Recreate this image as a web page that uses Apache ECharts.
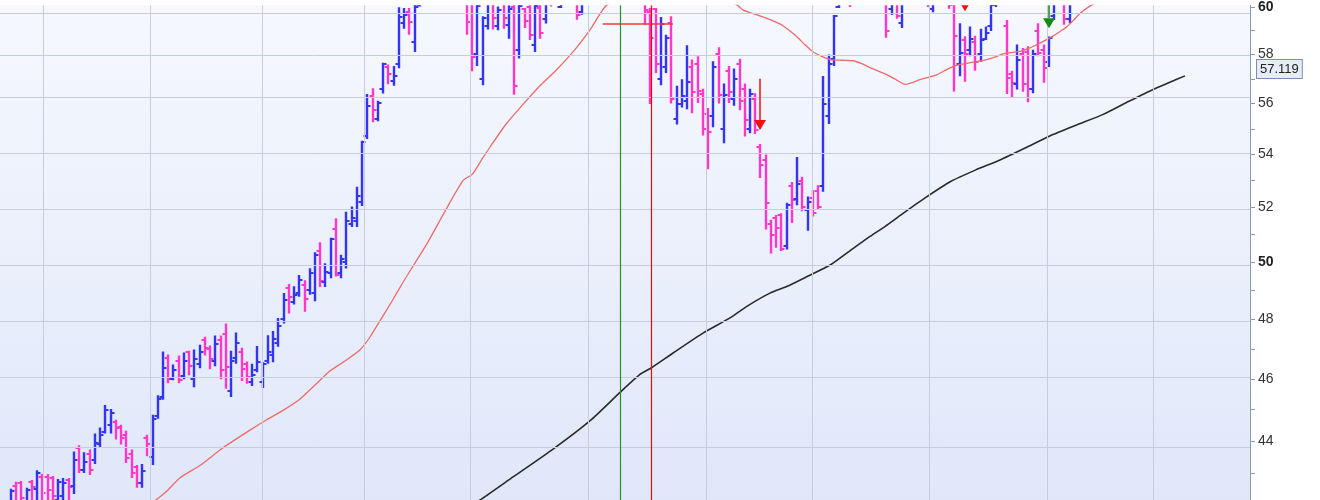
<!DOCTYPE html>
<html><head><meta charset="utf-8">
<script src="https://cdn.jsdelivr.net/npm/echarts@6/dist/echarts.min.js"></script>
<style>html,body{margin:0;padding:0;background:#fff}#c{width:1320px;height:500px}</style>
</head><body><div id="c"></div>
<script>
// OHLC bars: [open, high, low, close], one per trading day
const bars = [
[42.0,42.53,41.9,42.45],[42.6,42.74,41.9,42.1],[42.7,42.77,41.9,42.24],[42.1,42.56,41.95,42.5],[42.75,42.8,41.9,42.57],
[42.52,43.1,42.0,43.0],[42.9,42.98,42.0,42.4],[42.9,42.98,42.05,42.5],[42.85,42.92,42.0,42.3],[42.2,42.83,42.0,42.75],
[42.3,42.86,42.05,42.7],[42.8,42.86,42.1,42.57],[42.6,43.68,42.37,43.41],[43.8,43.87,43.01,43.09],[43.1,43.65,43.01,43.35],
[43.6,43.74,42.95,43.1],[43.4,44.24,43.29,43.94],[43.9,44.43,43.8,44.2],[44.3,45.15,44.24,44.98],[44.5,45.02,44.24,44.9],
[44.6,44.68,44.05,44.41],[44.45,44.52,43.9,44.1],[44.2,44.33,43.32,43.46],[43.6,43.74,42.86,43.0],[43.2,43.26,42.56,42.72],
[42.7,43.29,42.56,43.07],[44.1,44.2,43.53,43.92],[43.5,44.84,43.26,44.71],[44.8,45.47,44.71,45.36],[45.4,46.91,45.32,46.35],
[46.7,46.81,45.86,46.0],[46.0,46.48,45.96,46.3],[46.6,46.78,45.86,45.95],[46.1,46.88,45.99,46.6],[46.9,46.94,46.12,46.44],
[46.0,46.98,45.73,46.66],[46.5,47.14,46.35,46.88],[47.3,47.41,46.78,47.04],[47.0,47.11,46.32,46.66],[46.6,47.45,46.42,47.16],
[47.3,47.45,45.99,46.3],[47.5,47.86,45.68,46.38],[45.6,46.94,45.41,46.58],[46.7,47.55,46.5,47.21],[46.9,47.04,45.93,46.33],
[46.5,46.58,45.84,46.06],[45.9,46.5,45.77,46.12],[46.3,47.1,46.22,46.55],[45.9,46.55,45.7,46.5],[46.6,47.46,46.5,46.88],
[46.8,47.6,46.55,47.32],[47.2,48.05,47.07,47.77],[48.0,48.91,47.86,48.68],[49.1,49.23,48.2,48.78],[48.6,49.15,48.51,48.85],
[48.9,49.55,48.78,49.38],[49.2,49.36,48.26,48.69],[49.02,49.79,48.85,49.6],[48.9,50.36,48.63,50.27],[50.4,50.72,49.12,49.32],
[49.3,49.96,49.12,49.67],[49.6,50.88,49.43,50.82],[51.2,51.6,49.49,49.55],[49.6,50.27,49.43,50.1],[50.0,51.84,49.78,51.48],
[51.4,52.03,51.27,51.6],[51.5,52.77,51.27,52.42],[52.2,54.53,52.05,54.47],[54.7,56.38,54.6,55.92],[56.3,56.62,55.26,55.73],
[55.4,56.11,55.3,56.04],[56.6,57.66,56.4,57.62],[57.5,57.59,56.78,57.18],[56.9,57.52,56.72,57.12],[57.6,59.99,57.43,59.58],
[59.3,59.96,59.07,59.66],[59.8,59.96,58.82,59.35],[58.5,60.3,58.1,60.02],[60.1,60.6,60.02,60.4],[60.4,61.2,60.2,61.0],
[61.0,61.5,60.5,60.8],[60.8,61.6,60.6,61.4],[61.4,61.9,60.9,61.1],[61.1,61.8,60.7,61.6],[61.6,62.0,61.0,61.2],
[61.2,61.7,60.6,60.9],[60.9,61.3,60.3,61.1],[60.5,61.0,58.82,59.35],[60.4,60.8,57.31,57.88],[58.0,60.6,57.52,60.03],
[57.0,59.6,56.74,59.53],[59.2,60.5,59.04,60.2],[60.3,60.6,59.04,59.53],[59.2,60.02,59.01,59.88],[60.2,60.4,59.07,59.53],
[59.24,60.08,58.65,59.9],[60.0,60.3,56.35,56.7],[58.2,60.1,57.83,60.03],[59.9,59.96,59.11,59.4],[60.0,60.1,58.6,58.82],
[58.4,60.1,58.1,60.03],[59.96,60.2,58.65,58.9],[59.5,60.5,59.3,60.3],[60.6,60.9,60.02,60.2],[60.3,61.0,60.2,60.8],
[60.0,60.6,59.96,60.4],[60.5,61.2,60.3,61.0],[61.0,61.3,60.4,60.6],[60.5,60.8,59.46,59.66],[59.8,60.5,59.67,60.2],
[60.3,61.0,60.2,60.8],[60.8,61.4,60.5,61.2],[61.2,61.6,60.7,60.9],[60.9,61.8,60.8,61.6],[61.6,62.1,61.2,61.5],
[61.5,62.2,61.1,62.0],[62.0,62.4,61.3,61.6],[61.6,62.0,61.0,61.3],[61.3,61.8,60.6,60.9],[60.9,61.4,60.4,61.2],
[61.2,61.5,60.5,60.7],[60.4,60.7,59.24,59.88],[59.8,59.96,55.98,58.67],[59.9,59.96,57.24,57.6],[57.0,59.57,56.74,59.29],
[57.5,58.82,57.24,58.67],[59.3,59.61,56.0,56.17],[55.4,56.72,55.17,56.0],[56.0,56.98,55.84,56.32],[56.1,58.38,55.77,56.87],
[57.5,57.79,55.61,56.45],[57.6,57.93,56.02,56.49],[56.4,56.6,54.74,55.0],[55.6,55.82,53.43,54.87],[55.5,57.72,55.06,57.48],
[58.0,58.3,56.0,56.35],[55.0,56.81,54.44,56.35],[57.3,57.52,56.02,56.45],[56.2,57.42,55.91,56.98],[57.6,57.82,55.73,56.11],
[56.6,56.81,54.7,55.34],[55.0,56.6,54.83,56.38],[56.2,56.41,54.8,54.96],[54.3,54.41,53.1,53.58],[53.8,54.0,51.18,52.17],
[51.4,51.54,50.31,51.0],[51.6,51.72,50.52,51.24],[51.7,51.78,50.4,50.46],[50.6,52.17,50.46,52.08],[52.8,52.95,51.42,52.27],
[52.3,53.9,52.08,52.89],[53.0,53.15,51.85,52.0],[51.9,52.4,51.14,52.2],[52.33,52.64,51.66,51.8],[52.6,52.83,51.9,52.0],
[52.8,57.11,52.58,56.0],[55.5,58.0,55.19,57.59],[57.8,59.66,57.52,59.6],[60.0,60.7,59.96,60.5],[60.5,61.0,60.3,60.7],
[60.6,60.8,60.0,60.2],[60.2,60.9,60.15,60.7],[60.7,61.3,60.4,61.1],[61.1,61.4,60.5,60.8],[60.8,61.5,60.6,61.3],
[61.3,61.6,60.7,61.0],[61.0,61.2,60.4,60.6],[60.5,60.8,58.7,59.0],[59.9,60.6,59.66,60.3],[60.3,60.6,59.5,59.6],
[59.3,60.5,59.11,60.3],[60.3,61.0,60.2,60.8],[60.8,61.2,60.4,60.6],[60.6,61.3,60.5,61.1],[61.1,61.4,60.6,60.9],
[60.5,60.8,60.0,60.2],[59.9,60.5,59.78,60.3],[60.3,61.0,60.2,60.8],[60.8,61.1,60.3,60.5],[60.5,60.8,59.92,60.1],
[60.2,60.6,56.49,58.78],[57.6,59.31,57.1,58.07],[58.6,58.76,56.88,58.0],[58.2,59.17,57.93,58.65],[58.5,58.78,57.33,57.7],
[58.0,59.07,57.7,58.62],[58.66,59.17,58.6,58.9],[59.2,60.4,58.98,60.1],[60.1,60.7,60.0,60.5],[60.5,60.9,60.3,60.6],
[59.2,59.45,56.38,57.04],[57.2,57.33,56.23,56.84],[56.8,58.41,56.57,57.79],[58.0,58.27,56.48,56.78],[58.1,58.34,56.05,56.57],
[56.6,58.2,56.41,58.0],[59.0,59.31,57.93,58.07],[58.2,58.41,56.84,57.45],[57.7,58.75,57.48,58.7],[59.6,60.5,59.45,60.3],
[60.3,60.8,60.2,60.6],[60.5,60.7,59.24,59.5],[59.5,60.6,59.31,60.3],[60.3,61.0,60.2,60.8],[60.8,61.3,60.5,61.1],
[61.1,61.5,60.7,60.9],[60.9,61.6,60.8,61.4],[61.4,61.9,61.1,61.7],[61.7,62.0,61.2,61.4],[61.4,62.1,61.3,61.9],
[61.9,62.4,61.6,62.2],[62.2,62.5,61.7,61.9],[61.9,62.6,61.8,62.4],[62.4,62.8,62.0,62.2],[62.2,62.9,62.1,62.7],
[62.7,63.1,62.3,62.5],[62.5,63.2,62.4,63.0],[63.0,63.4,62.6,62.8],[62.8,63.3,62.5,63.1],[63.1,63.6,62.9,63.4],
[63.4,63.7,62.9,63.1],[63.1,63.8,63.0,63.6],[63.6,64.0,63.2,63.4],[63.4,64.1,63.3,63.9],[63.9,64.3,63.5,63.7]
];
// moving averages: [bar index, value]
const redMA = [[20,41.5],[26.8,42.1],[29.8,42.47],[32.2,42.86],[36.1,43.25],[40.5,43.8],[45.6,44.35],[48.8,44.68],[51.9,44.98],
[55.1,45.34],[58,45.8],[60.9,46.27],[63.8,46.6],[66.6,46.97],[68.5,47.4],[70.4,47.95],[72.6,48.6],[74.8,49.29],[77.1,49.98],
[79.4,50.68],[82.8,51.85],[86.2,52.99],[88.1,53.26],[89.8,53.8],[91.4,54.29],[94.5,55.2],[97.7,55.97],[100.6,56.65],
[104,57.35],[107.6,58.2],[110.7,59.1],[113.7,60.09],[120,60.6],[128,60.8],[134,60.5],[138.5,60.09],[139.7,59.87],
[143.2,59.6],[146.7,59.28],[148.4,59.02],[150,58.73],[151.5,58.4],[153,58.11],[154.7,57.92],[156.3,57.79],[158.5,57.76],
[160.7,57.74],[162.3,57.62],[163.9,57.46],[165.5,57.31],[167.1,57.17],[168.9,56.96],[170.6,56.77],[172,56.85],[173.4,56.97],
[175,57.06],[176.7,57.17],[178.2,57.34],[179.7,57.5],[181.4,57.6],[183,57.66],[184.6,57.72],[186.2,57.79],[187.8,57.9],
[189.3,58.02],[190.9,58.08],[192.5,58.13],[193.8,58.22],[195,58.33],[196.6,58.5],[198.2,58.69],[199.9,58.92],[201.5,59.17],
[202.8,59.45],[204,59.73],[206.3,60.09],[215,60.9],[224,61.5]];
const blackMA = [[85,41.75],[89.5,42.19],[95.8,42.89],[103.5,43.76],[110.5,44.65],[116.2,45.56],[120,46.15],[122.2,46.37],
[126.4,46.87],[132.1,47.54],[137.2,48.05],[140.4,48.45],[144.8,48.91],[148,49.14],[152,49.5],[156.3,49.9],[160,50.4],
[163.9,50.93],[166.8,51.3],[169.6,51.69],[174.4,52.35],[179.2,52.96],[184,53.4],[188.7,53.79],[193.5,54.25],[198.2,54.72],
[203.3,55.15],[208.4,55.57],[213.2,56.08],[217.9,56.57],[221,56.85],[224,57.119]];
// month boundaries (bar index)
const monthBreaks = [6.1,26.5,47.9,67.4,87.6,110.1,132.6,152.8,175.2,197.7,217.9];
const yLabelValues = [44,46,48,50,52,54,56,58,60];
const yTickValues = [43,44,45,46,47,48,49,50,51,52,53,54,55,56,57,58,59,60];
const yRange = [42.19, 60.072];   // visible price range (logarithmic scale)
// trade signals: [bar index, arrow tip value, arrow tail value, kind]
const signals = [[143,54.95,57.0,'sell'],[182,59.82,61.5,'sell'],[198,59.1,60.6,'buy']];
// entry / exit event markers: [bar index, kind]
const events = [[116.2,'entry'],[122.2,'exit']];
const stopLine = [112.9, 126.3, 59.28];

const BLUE = '#3434f4', PINK = '#ff38c8';
const L = Math.log;   // price axis is logarithmic: plot ln(price)
const chart = echarts.init(document.getElementById('c'), null, {renderer: 'canvas'});
const lastMA = blackMA[blackMA.length - 1][1];
const FONT = 'Liberation Sans, Arial, sans-serif';

const option = {
  animation: false,
  backgroundColor: '#ffffff',
  grid: {
    left: 0, right: 70, top: 0, bottom: 0, show: true, borderWidth: 0,
    backgroundColor: new echarts.graphic.LinearGradient(0, 0, 0, 1, [
      {offset: 0, color: '#f6f8fe'}, {offset: 1, color: '#dfe7f9'}])
  },
  xAxis: { type: 'value', min: -2.099, max: 236.4, show: false },
  yAxis: {
    type: 'value', position: 'right', min: L(yRange[0]), max: L(yRange[1]), scale: true,
    axisLine: {show: true, onZero: false, lineStyle: {color: '#8a9ab2', width: 1}},
    axisTick: {show: true, length: 5, customValues: yTickValues.map(L), lineStyle: {color: '#8a9ab2'}},
    axisLabel: {
      customValues: yLabelValues.map(L), margin: 8, fontSize: 14, color: '#333', fontFamily: FONT,
      formatter: v => { const r = Math.round(Math.exp(v)); return r % 10 === 0 ? '{b|' + r + '}' : String(r); },
      rich: {b: {fontWeight: 'bold', fontSize: 14, color: '#222', fontFamily: FONT}}
    },
    splitLine: {show: false}
  },
  series: [
    { type: 'line', data: [], z: 1, silent: true,
      markLine: { silent: true, symbol: 'none', label: {show: false},
        lineStyle: {color: '#c6cedd', width: 1, type: 'solid'},
        data: yLabelValues.map(v => ({yAxis: L(v)})).concat(monthBreaks.map(m => ({xAxis: m}))) } },
    { type: 'custom', z: 3, clip: true,
      data: bars.map((b, i) => [i, L(b[0]), L(b[1]), L(b[2]), L(b[3])]),
      encode: {x: 0, y: [1, 2, 3, 4]},
      renderItem: (params, api) => {
        const i = api.value(0);
        const o = api.coord([i, api.value(1)]), h = api.coord([i, api.value(2)]);
        const l = api.coord([i, api.value(3)]), c = api.coord([i, api.value(4)]);
        const color = api.value(4) >= api.value(1) ? BLUE : PINK;
        const x = Math.round(h[0]);
        const st = {stroke: color, lineWidth: 2.4};
        const st2 = {stroke: color, lineWidth: 2};
        return {type: 'group', children: [
          {type: 'line', shape: {x1: x, y1: h[1], x2: x, y2: l[1]}, style: st},
          {type: 'line', shape: {x1: x - 3.5, y1: Math.round(o[1]), x2: x, y2: Math.round(o[1])}, style: st2},
          {type: 'line', shape: {x1: x, y1: Math.round(c[1]), x2: x + 3.5, y2: Math.round(c[1])}, style: st2}
        ]};
      } },
    { type: 'line', data: redMA.map(p => [p[0], L(p[1])]), showSymbol: false, z: 4, clip: true, silent: true, smooth: 0.2,
      lineStyle: {color: '#f06a6a', width: 1.3} },
    { type: 'line', data: blackMA.map(p => [p[0], L(p[1])]), showSymbol: false, z: 4, clip: true, silent: true, smooth: 0.2,
      lineStyle: {color: '#2a2a2a', width: 1.6},
      markLine: { silent: true, symbol: 'none',
        lineStyle: {color: 'rgba(0,0,0,0)', width: 0},
        label: {show: true, position: 'end', distance: 7, formatter: () => lastMA.toFixed(3),
          fontSize: 13, color: '#222', fontFamily: FONT,
          backgroundColor: '#e6ecf8', borderColor: '#7d8db0', borderWidth: 1, padding: [3, 3, 2, 3]},
        data: [{yAxis: L(lastMA)}] } },
    { type: 'custom', z: 5, clip: true,
      data: events.map(e => [e[0], e[1] === 'entry' ? 1 : 0]),
      encode: {x: 0},
      renderItem: (params, api) => {
        const p = api.coord([api.value(0), L(50)]);
        const cs = params.coordSys;
        const x = Math.round(p[0]) + 0.5;
        return {type: 'line', shape: {x1: x, y1: cs.y, x2: x, y2: cs.y + cs.height},
          style: {stroke: api.value(1) === 1 ? '#2e8b2e' : '#ff0000', lineWidth: 1.2}};
      } },
    { type: 'line', data: [], z: 5, silent: true, color: '#ee3b3b',
      markLine: { silent: true, symbol: 'none', label: {show: false},
        lineStyle: {color: '#ee3b3b', width: 1.5, type: 'solid'},
        data: [[{coord: [stopLine[0], L(stopLine[2])]}, {coord: [stopLine[1], L(stopLine[2])]}]] } },
    { type: 'custom', z: 6, clip: true,
      data: signals.map(s => [s[0], L(s[1]), L(s[2]), s[3] === 'buy' ? 1 : 0]),
      encode: {x: 0, y: [1, 2]},
      renderItem: (params, api) => {
        const i = api.value(0);
        const tip = api.coord([i, api.value(1)]), tail = api.coord([i, api.value(2)]);
        const color = api.value(3) === 1 ? '#138a13' : '#f01010';
        const x = Math.round(tip[0]);
        const base = tip[1] - 10;
        return {type: 'group', children: [
          {type: 'line', shape: {x1: x, y1: tail[1], x2: x, y2: base}, style: {stroke: color, lineWidth: 1.5}},
          {type: 'polygon', shape: {points: [[x - 6, base], [x + 6, base], [x, tip[1]]]}, style: {fill: color}}
        ]};
      } }
  ]
};
chart.setOption(option);
</script>
</body></html>
